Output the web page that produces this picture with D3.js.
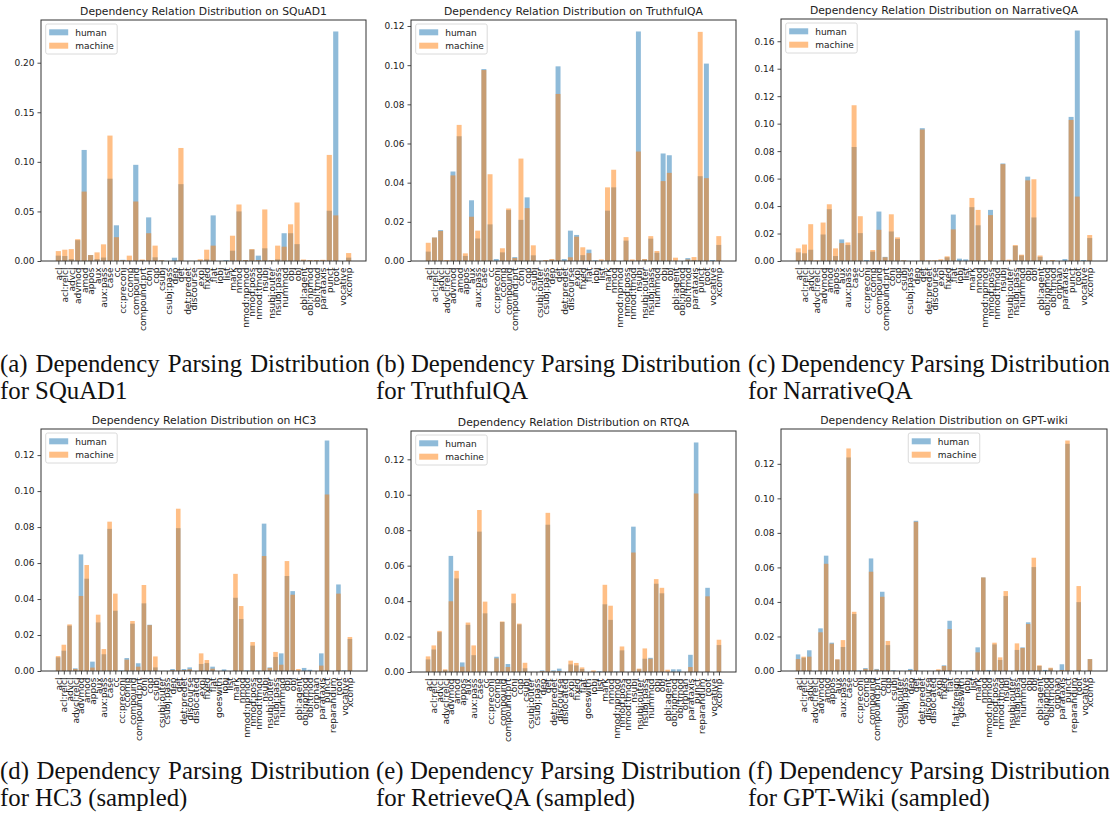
<!DOCTYPE html>
<html>
<head>
<meta charset="utf-8">
<script src="https://cdn.jsdelivr.net/npm/d3@7"></script>
<style>
  body { margin: 0; background: #fff; }
  svg text { font-family: "DejaVu Sans", sans-serif; fill: #222; }
  .caption text { font-family: "Liberation Serif", "Times New Roman", serif; fill: #111; }
</style>
</head>
<body>
<div id="chart"></div>
<script>
// ---- category lists ----
var catsSquad = ["acl","acl:relcl","advcl","advmod","amod","appos","aux","aux:pass","case","cc","cc:preconj","ccomp","compound","compound:prt","conj","cop","csubj","csubj:pass","dep","det","det:predet","discourse","expl","fixed","flat","iobj","list","mark","nmod","nmod:npmod","nmod:poss","nmod:tmod","nsubj","nsubj:outer","nsubj:pass","nummod","obj","obl","obl:agent","obl:npmod","obl:tmod","parataxis","punct","root","vocative","xcomp"];
var catsTruthful = ["acl","acl:relcl","advcl","advcl:relcl","advmod","amod","appos","aux","aux:pass","case","cc","cc:preconj","ccomp","compound","compound:prt","conj","cop","csubj","csubj:outer","csubj:pass","dep","det","det:predet","discourse","expl","fixed","flat","iobj","list","mark","nmod","nmod:npmod","nmod:poss","nmod:tmod","nsubj","nsubj:outer","nsubj:pass","nummod","obj","obl","obl:agent","obl:npmod","obl:tmod","parataxis","punct","root","vocative","xcomp"];
var catsNarrative = ["acl","acl:relcl","advcl","advcl:relcl","advmod","amod","appos","aux","aux:pass","case","cc","cc:preconj","ccomp","compound","compound:prt","conj","cop","csubj","csubj:pass","dep","det","det:predet","discourse","expl","fixed","flat","iobj","list","mark","nmod","nmod:npmod","nmod:poss","nmod:tmod","nsubj","nsubj:outer","nsubj:pass","nummod","obj","obl","obl:agent","obl:npmod","obl:tmod","orphan","parataxis","punct","root","vocative","xcomp"];
var catsHC3 = ["acl","acl:relcl","advcl","advcl:relcl","advmod","amod","appos","aux","aux:pass","case","cc","cc:preconj","ccomp","compound","compound:prt","conj","cop","csubj","csubj:outer","csubj:pass","dep","det","det:predet","discourse","dislocated","expl","fixed","flat","goeswith","iobj","list","mark","nmod","nmod:npmod","nmod:poss","nmod:tmod","nsubj","nsubj:outer","nsubj:pass","nummod","obj","obl","obl:agent","obl:npmod","obl:tmod","orphan","parataxis","punct","reparandum","root","vocative","xcomp"];
var catsRTQA = catsHC3.slice();
var catsWiki = ["acl","acl:relcl","advcl","advcl:relcl","advmod","amod","appos","aux","aux:pass","case","cc","cc:preconj","ccomp","compound","compound:prt","conj","cop","csubj","csubj:outer","csubj:pass","dep","det","det:predet","discourse","dislocated","expl","fixed","flat","flat:foreign","goeswith","iobj","list","mark","nmod","nmod:npmod","nmod:poss","nmod:tmod","nsubj","nsubj:outer","nsubj:pass","nummod","obj","obl","obl:agent","obl:npmod","obl:tmod","orphan","parataxis","punct","reparandum","root","vocative","xcomp"];

// ---- values ----
var humanSquad = [.0054,.005,.002,.021,.112,.006,.002,.0035,.083,.036,.0012,.0004,.097,.001,.044,.0037,.0005,0,.0033,.0775,0,0,.0003,.0017,.046,0,.0008,.0104,.050,.0008,.0115,.0054,.0128,.0005,.0017,.028,.028,.017,.0008,.0006,.0006,.0005,.0507,.2315,0,.0034];
var machineSquad = [.010,.0114,.012,.022,.070,.006,.0087,.0168,.1265,.024,.0008,.0054,.060,.0015,.028,.0155,.0008,0,0,.114,0,0,.0017,.0114,.0155,0,0,.0255,.057,.001,.012,.001,.052,.0008,.0155,.0144,.037,.059,.0015,.001,.001,.0012,.107,.046,0,.008];

var humanTruthful = [.0048,.012,.0158,0,.0457,.0637,.0026,.031,.0115,.098,.0187,.001,.0044,.026,.002,.021,.0325,.0029,0,0,.0007,.0994,.001,.0155,.0133,.003,.0058,.0003,0,.0257,.0376,0,.0104,0,.1172,.0008,.0114,.0042,.0549,.054,0,0,.0015,.0005,.0433,.1008,.0005,.0082];
var machineTruthful = [.0093,.012,.0153,.0005,.0437,.0695,.0039,.0226,.0155,.0975,.0443,0,.0065,.0268,.0015,.0523,.027,.008,0,.0005,.001,.0853,0,.0019,.0124,.007,.004,0,.0008,.0376,.0466,0,.0122,.0008,.0559,.001,.0127,.0051,.0408,.045,.0017,0,.0008,.002,.117,.0423,0,.0127];

var humanNarrative = [.0063,.0056,.0082,0,.0193,.0377,.0036,.0157,.0116,.083,.0203,.0007,.0068,.036,.003,.0215,.016,.0003,0,0,.0967,0,0,.0005,.0027,.0338,.0017,.0012,.0392,.026,0,.0372,0,.071,0,.011,.004,.0614,.0317,.003,0,0,0,.0014,.1049,.1678,.0007,.0167];
var machineNarrative = [.0092,.012,.0268,.0005,.028,.0413,.0092,.013,.0135,.1134,.0326,0,.008,.0227,.0027,.034,.0172,.0005,0,0,.0957,.0005,.0005,.0012,.0034,.023,0,0,.0459,.0372,.0005,.0334,0,.0705,.001,.0116,.0046,.0587,.0595,.004,0,.0007,0,0,.1027,.0469,0,.0189];

var humanHC3 = [.0076,.0113,.0252,.0015,.0648,.0513,.0052,.027,.0093,.079,.0335,.0003,.0072,.0263,.0043,.0376,.0257,.002,0,0,.0011,.0794,.0011,.002,0,.0039,.0044,.0024,0,.0009,0,.0407,.0289,.0003,.0141,.0003,.0819,.002,.0078,.0098,.0528,.0444,0,.0017,.0007,0,.0098,.1281,0,.0481,.0003,.0178];
var machineHC3 = [.0083,.0146,.0259,.0011,.0417,.0589,.0019,.0313,.0122,.083,.043,0,.0063,.0278,.0024,.0478,.0255,.0081,0,0,.0005,.0902,.0005,.001,0,.0098,.0061,.0013,0,0,0,.054,.0361,0,.0161,0,.0639,.0017,.0106,.0035,.0611,.0424,.0011,0,0,0,.003,.0981,0,.043,0,.0189];

var humanRTQA = [.0071,.0127,.0225,.0011,.0655,.0528,.0054,.0266,.0095,.0792,.0331,0,.0086,.0282,.0045,.0388,.0268,.0021,0,0,.0009,.0831,.0009,.0019,0,.0043,.0037,.0017,0,0,.0004,.0382,.0294,.0003,.0122,0,.082,.0015,.0075,.008,.0498,.0444,0,.0015,.0015,0,.0097,.1295,0,.0475,0,.0152];
var machineRTQA = [.0088,.015,.0232,.0015,.0399,.0571,.003,.0279,.015,.0914,.0397,0,.0077,.0285,.0028,.0442,.0273,.0052,0,0,.0005,.0898,.0003,.0005,0,.0064,.0051,.0026,0,.0009,0,.0492,.0374,0,.0144,0,.0674,.0019,.0133,.0075,.0524,.0475,.0013,0,0,0,.0028,.1007,0,.0427,0,.0182];

var humanWiki = [.0096,.0077,.012,0,.0247,.0668,.0164,.0066,.0139,.1237,.033,.0003,.0017,.0652,.0012,.0459,.015,.0004,0,0,.0012,.087,0,0,0,.0003,.0033,.0291,0,0,0,.0006,.0137,.0542,.0006,.0154,.0064,.0434,0,.0122,.0137,.0282,.0602,.0029,.0006,.0015,0,.0039,.1316,0,.0399,0,.0069];
var machineWiki = [.0069,.0083,.0083,0,.0224,.0621,.0158,.0068,.0179,.1289,.0343,0,.0012,.0575,.0008,.043,.0174,0,0,0,.0005,.0864,0,0,0,.001,.0029,.0243,0,0,0,0,.0108,.0542,0,.0164,.0079,.0463,0,.016,.0133,.0272,.0656,.0033,0,.0019,0,.0006,.1335,0,.0492,0,.0069];

// ---- tick labels ----
var yTicksSquad = [0, 0.05, 0.10, 0.15, 0.20];
var yTicksTruthful = [0, 0.02, 0.04, 0.06, 0.08, 0.10, 0.12];
var yTicksNarrative = [0, 0.02, 0.04, 0.06, 0.08, 0.10, 0.12, 0.14, 0.16];
var yTicksSampled = [0, 0.02, 0.04, 0.06, 0.08, 0.10, 0.12];

var seriesNames = ["human", "machine"];
var datasetNames = ["SQuAD1", "TruthfulQA", "NarrativeQA", "HC3", "RTQA", "GPT-wiki"];
var captionLines = [
  ["(a) Dependency Parsing Distribution", "for SQuAD1"],
  ["(b) Dependency Parsing Distribution", "for TruthfulQA"],
  ["(c) Dependency Parsing Distribution", "for NarrativeQA"],
  ["(d) Dependency Parsing Distribution", "for HC3 (sampled)"],
  ["(e) Dependency Parsing Distribution", "for RetrieveQA (sampled)"],
  ["(f) Dependency Parsing Distribution", "for GPT-Wiki (sampled)"]
];

var width = 1110, height = 816;
var colors = ["#1f77b4", "#ff7f0e"];

var panels = [
  {cats: catsSquad, human: humanSquad, machine: machineSquad, yTicks: yTicksSquad, fmt: ".2f",
   box: [41, 366, 20, 261], legend: "left", cap: [0, 370, 372]},
  {cats: catsTruthful, human: humanTruthful, machine: machineTruthful, yTicks: yTicksTruthful, fmt: ".2f",
   box: [411, 736, 20, 261], legend: "left", cap: [376, 741, 372]},
  {cats: catsNarrative, human: humanNarrative, machine: machineNarrative, yTicks: yTicksNarrative, fmt: ".2f",
   box: [781, 1107, 19, 261], legend: "left", cap: [748, 1110, 372]},
  {cats: catsHC3, human: humanHC3, machine: machineHC3, yTicks: yTicksSampled, fmt: ".2f",
   box: [41, 367, 429, 671], legend: "left", cap: [0, 370, 779]},
  {cats: catsRTQA, human: humanRTQA, machine: machineRTQA, yTicks: yTicksSampled, fmt: ".2f",
   box: [411, 736, 431, 672], legend: "left", cap: [376, 741, 779]},
  {cats: catsWiki, human: humanWiki, machine: machineWiki, yTicks: yTicksSampled, fmt: ".2f",
   box: [781, 1107, 429, 671], legend: "center", cap: [748, 1110, 779]}
];

var svg = d3.select("#chart").append("svg")
    .attr("width", width)
    .attr("height", height);

panels.forEach(function(p, k) {
  var x0 = p.box[0], x1 = p.box[1], y0 = p.box[2], y1 = p.box[3];
  var n = p.cats.length;
  // matplotlib style: bar width 0.8, 5% margins
  var span = (n - 1) + 0.8;
  var m = 0.05 * span;
  var x = d3.scaleLinear().domain([-0.4 - m, n - 1 + 0.4 + m]).range([x0, x1]);
  var ymax = d3.max(p.human.concat(p.machine)) * 1.05;
  var y = d3.scaleLinear().domain([0, ymax]).range([y1, y0]);

  var g = svg.append("g").attr("class", "panel");

  // bars: human first, machine over it
  [p.human, p.machine].forEach(function(vals, s) {
    g.selectAll(".bar" + s)
      .data(vals)
      .enter().append("rect")
      .attr("class", "bar" + s)
      .attr("x", function(d, i) { return x(i - 0.4); })
      .attr("width", function(d, i) { return x(i + 0.4) - x(i - 0.4); })
      .attr("y", function(d) { return y(d); })
      .attr("height", function(d) { return y(0) - y(d); })
      .attr("fill", colors[s])
      .attr("fill-opacity", 0.5);
  });

  // y axis
  var yAxis = d3.axisLeft(y)
      .tickValues(p.yTicks)
      .tickFormat(d3.format(p.fmt))
      .tickSize(3.5)
      .tickPadding(3);
  var ya = g.append("g").attr("transform", "translate(" + x0 + ",0)").call(yAxis);
  ya.select(".domain").remove();
  ya.selectAll("text").style("font-size", "9px").attr("fill", "#222");
  ya.selectAll("line").attr("stroke", "#222").attr("stroke-width", 0.8);

  // x axis with rotated category labels
  var xAxis = d3.axisBottom(x)
      .tickValues(d3.range(n))
      .tickFormat(function(i) { return p.cats[i]; })
      .tickSize(3.5);
  var xa = g.append("g").attr("transform", "translate(0," + y1 + ")").call(xAxis);
  xa.select(".domain").remove();
  xa.selectAll("line").attr("stroke", "#222").attr("stroke-width", 0.8);
  xa.selectAll("text")
      .style("font-size", "9px")
      .attr("fill", "#222")
      .attr("transform", "rotate(-90)")
      .attr("x", -6.5)
      .attr("y", 0)
      .attr("dy", "0.33em")
      .style("text-anchor", "end");

  // frame
  g.append("rect")
      .attr("x", x0).attr("y", y0)
      .attr("width", x1 - x0).attr("height", y1 - y0)
      .attr("fill", "none")
      .attr("stroke", "#333")
      .attr("stroke-width", 1);

  // title
  g.append("text")
      .attr("x", (x0 + x1) / 2)
      .attr("y", y0 - 5)
      .attr("text-anchor", "middle")
      .style("font-size", "10.8px")
      .text("Dependency Relation Distribution on " + datasetNames[k]);

  // legend
  var lw = 71.5, lh = 30;
  var lx = p.legend === "center" ? (x0 + x1) / 2 - lw / 2 : x0 + 4.7;
  var ly = y0 + 4;
  var lg = g.append("g").attr("transform", "translate(" + lx + "," + ly + ")");
  lg.append("rect")
      .attr("width", lw).attr("height", lh)
      .attr("rx", 2)
      .attr("fill", "#fff").attr("fill-opacity", 0.8)
      .attr("stroke", "#d0d0d0").attr("stroke-width", 0.8);
  seriesNames.forEach(function(name, s) {
    lg.append("rect")
        .attr("x", 3.5).attr("y", 5.3 + s * 13.4)
        .attr("width", 19).attr("height", 6)
        .attr("fill", colors[s]).attr("fill-opacity", 0.5);
    lg.append("text")
        .attr("x", 29.5).attr("y", 11.6 + s * 13.4)
        .style("font-size", "9px")
        .text(name);
  });

  // caption (justified first line)
  var cx0 = p.cap[0], cx1 = p.cap[1], cy = p.cap[2];
  var cg = svg.append("g").attr("class", "caption");
  var words = captionLines[k][0].split(" ");
  var nodes = words.map(function(w) {
    return cg.append("text").attr("y", cy).style("font-size", "24.8px").text(w);
  });
  var widths = nodes.map(function(t) { return t.node().getComputedTextLength(); });
  var gap = (cx1 - cx0 - d3.sum(widths)) / (words.length - 1);
  var pos = cx0;
  nodes.forEach(function(t, i) {
    t.attr("x", pos);
    pos += widths[i] + gap;
  });
  cg.append("text")
      .attr("x", cx0).attr("y", cy + 27)
      .style("font-size", "24.8px")
      .text(captionLines[k][1]);
});
</script>
</body>
</html>
